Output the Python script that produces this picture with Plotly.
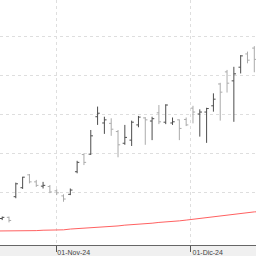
import plotly.graph_objects as go

dates = ["2024-10-22", "2024-10-23", "2024-10-24", "2024-10-25", "2024-10-28", "2024-10-29",
         "2024-10-30", "2024-10-31", "2024-11-01", "2024-11-04", "2024-11-05", "2024-11-06",
         "2024-11-07", "2024-11-08", "2024-11-11", "2024-11-12", "2024-11-13", "2024-11-14",
         "2024-11-15", "2024-11-18", "2024-11-19", "2024-11-20", "2024-11-21", "2024-11-22",
         "2024-11-25", "2024-11-26", "2024-11-27", "2024-11-29", "2024-12-02", "2024-12-03",
         "2024-12-04", "2024-12-05", "2024-12-06", "2024-12-09", "2024-12-10", "2024-12-11",
         "2024-12-12", "2024-12-13"]

open_ = [19.32, 19.35, 19.88, 20.11, 20.44, 20.26, 20.15, 20.14, 20.03, 19.90, 19.94, 20.52,
         20.96, 20.97, 21.93, 21.77, 21.76, 21.55, 21.25, 21.33, 21.72, 21.90, 21.82, 22.03,
         21.79, 21.77, 21.85, 21.86, 22.15, 22.00, 22.05, 22.21, 22.77, 23.08, 22.85, 23.20,
         23.54, 23.69]
high = [19.37, 19.37, 20.24, 20.39, 20.46, 20.31, 20.26, 20.18, 20.07, 19.94, 20.09, 20.80,
        20.99, 21.59, 22.19, 21.93, 21.89, 21.59, 21.72, 21.83, 21.95, 21.92, 21.93, 22.23,
        22.25, 21.91, 21.86, 21.91, 22.21, 22.12, 22.16, 22.53, 22.80, 23.13, 23.21, 23.51,
        23.60, 23.74]
low = [19.28, 19.22, 19.84, 20.08, 20.22, 20.13, 20.09, 19.97, 19.92, 19.75, 19.92, 20.48,
       20.69, 20.95, 21.72, 21.49, 21.44, 20.89, 21.21, 21.18, 21.66, 21.21, 21.33, 21.74,
       21.74, 21.72, 21.33, 21.69, 21.76, 21.42, 21.26, 22.06, 21.83, 22.55, 21.80, 23.04,
       23.30, 23.07]
close = [19.35, 19.27, 20.21, 20.38, 20.26, 20.17, 20.17, 20.00, 19.98, 19.82, 20.05, 20.76,
         20.76, 21.44, 22.02, 21.85, 21.61, 21.21, 21.40, 21.79, 21.92, 21.85, 21.88, 21.80,
         22.23, 21.80, 21.63, 21.72, 22.05, 22.05, 22.14, 22.38, 22.56, 22.79, 23.03, 23.49,
         23.38, 23.40]

ma_dates = ["2024-10-21"] + dates + ["2024-12-16"]
ma_values = [19.00, 19.00, 19.00, 19.01, 19.01, 19.01, 19.01, 19.02, 19.02, 19.02, 19.03,
             19.05, 19.06, 19.07, 19.08, 19.09, 19.11, 19.12, 19.13, 19.15, 19.16, 19.18,
             19.19, 19.20, 19.22, 19.23, 19.25, 19.26, 19.28, 19.30, 19.32, 19.34, 19.36,
             19.38, 19.40, 19.42, 19.44, 19.47, 19.49, 19.51]

tick_vals = ["2024-11-01", "2024-11-29 16:00"]
tick_text = ["01-Nov-24", "01-Dic-24"]
y_grid = [20, 21, 22, 23, 24]

fig = go.Figure()
fig.add_trace(go.Scatter(x=ma_dates, y=ma_values, mode="lines",
                         line=dict(color="#ff6161", width=1), hoverinfo="skip"))
fig.add_trace(go.Ohlc(x=dates, open=open_, high=high, low=low, close=close,
                      increasing=dict(line=dict(color="#4d4d4d", width=1)),
                      decreasing=dict(line=dict(color="#ababab", width=1)),
                      tickwidth=0.32))

fig.update_layout(
    width=256, height=256,
    margin=dict(l=0, r=0, t=0, b=11),
    paper_bgcolor="#f0f0f0",
    plot_bgcolor="#ffffff",
    showlegend=False,
    xaxis=dict(
        type="date",
        range=["2024-10-21 16:18", "2024-12-13 06:00"],
        rangebreaks=[dict(bounds=["sat", "mon"]), dict(values=["2024-11-28"])],
        rangeslider=dict(visible=False),
        tickmode="array", tickvals=tick_vals, ticktext=tick_text,
        ticks="outside", ticklen=6, tickcolor="#555555", tickwidth=1,
        ticklabelposition="outside",
        ticklabelshift=17,
        ticklabelstandoff=-5,
        tickfont=dict(family="Liberation Sans, Arial", size=7, color="#444444"),
        showline=True, linecolor="#666666", linewidth=1,
        showgrid=True, gridcolor="#dedede", griddash="dot", gridwidth=1,
        zeroline=False, automargin=False,
    ),
    yaxis=dict(
        range=[18.641, 24.923],
        tickmode="array", tickvals=y_grid,
        showticklabels=False,
        showgrid=True, gridcolor="#dedede", griddash="dot", gridwidth=1,
        zeroline=False, showline=False, automargin=False,
    ),
)

fig.write_html("out.html")
